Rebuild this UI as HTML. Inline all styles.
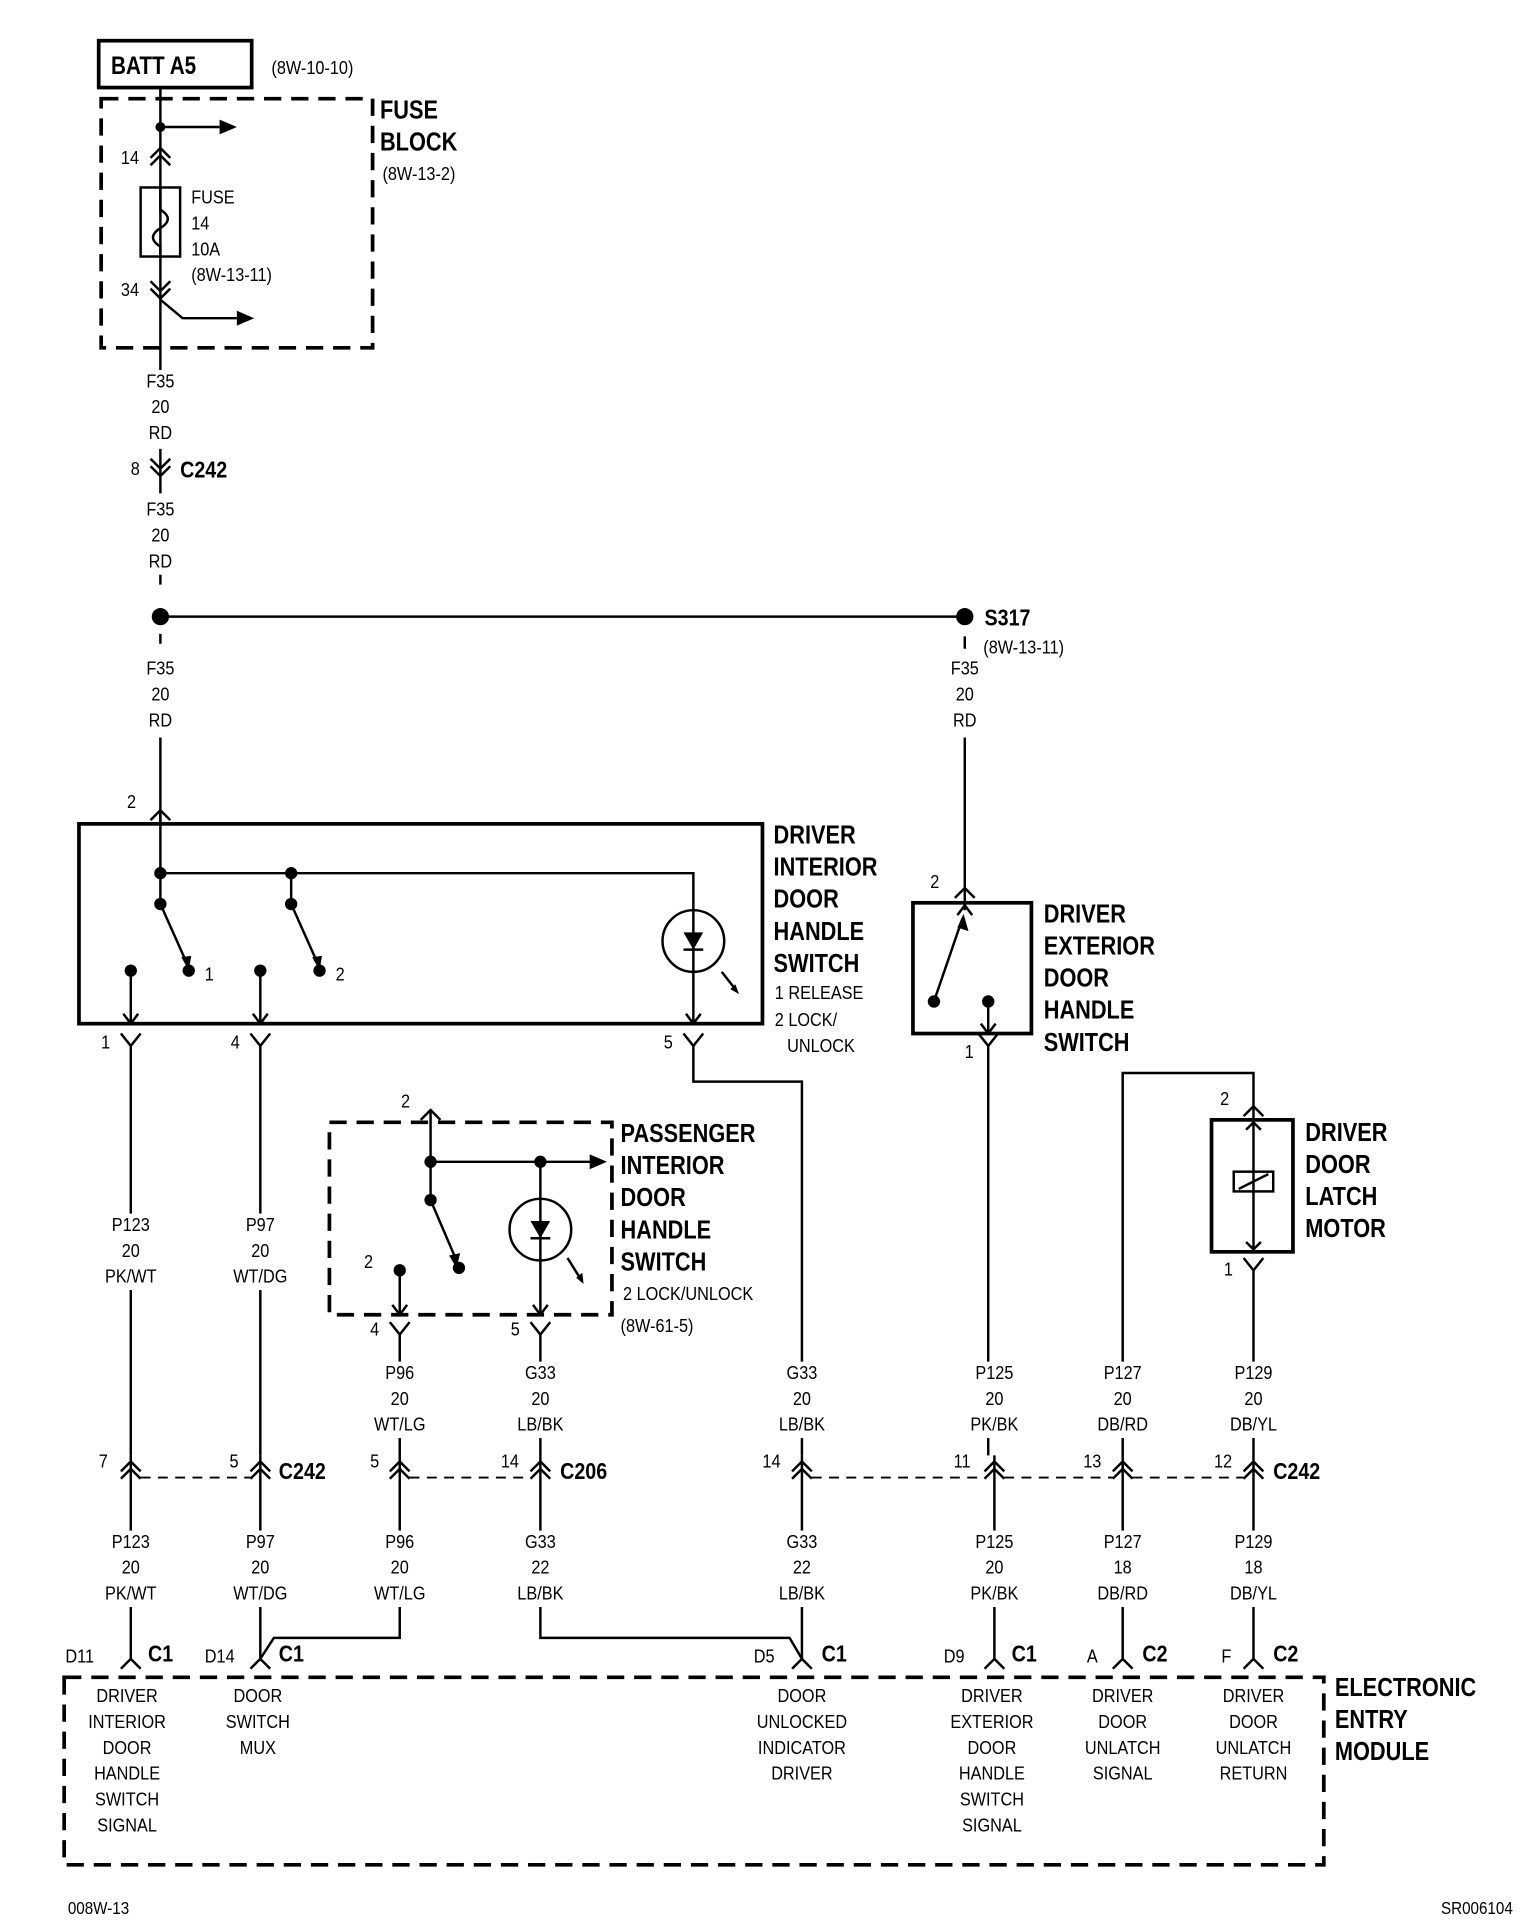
<!DOCTYPE html>
<html><head><meta charset="utf-8"><style>
html,body{margin:0;padding:0;background:#fff}
svg{display:block}
text{font-family:"Liberation Sans Narrow","Liberation Sans",sans-serif;fill:#000}
.b{font-weight:bold;font-size:21px}
.s{font-size:15px}
.c{text-anchor:middle;font-size:15px}
</style></head><body>
<svg id="d" width="1536" height="1924" viewBox="0 0 1245 1560" preserveAspectRatio="none" xmlns="http://www.w3.org/2000/svg">
<g stroke="#000" stroke-width="2" fill="none">
<rect x="80" y="33" width="124" height="38" stroke-width="3"/>
<rect x="82" y="80" width="220" height="202" stroke-width="3" stroke-dasharray="14 8"/>
<path d="M130 71V300M130 364V400M130 466V474M130 514V522M130 598V668"/>
<path d="M130 103H178"/>
<path d="M122 128L130 120L138 128M122 134L130 126L138 134"/>
<rect x="114" y="152" width="32" height="56"/>
<path d="M130 152V170C138 175 138 180 130 185C122 190 122 195 130 200V208"/>
<path d="M122 228L130 236L138 228M122 234L130 242L138 234"/>
<path d="M130 243L148 258H192"/>
<path d="M122 372L130 380L138 372M122 378L130 386L138 378"/>
<path d="M130 500H782"/>
<path d="M782 516V526M782 598V720"/>
<rect x="64" y="668" width="554" height="162" stroke-width="3"/>
<path d="M122 665L130 657L138 665"/>
<path d="M130 657V733M130 708H562V830M236 708V733"/>
<path d="M130 733L151 780M236 733L257 780"/>
<path d="M106 787V830M211 787V830"/>
<path d="M100 822L106 830L112 822M205 822L211 830L217 822M556 822L562 830L568 822"/>
<circle cx="562" cy="763" r="25"/>
<path d="M585 788L596 802"/>
<path d="M98 838L106 848L114 838M203 838L211 848L219 838M554 838L562 848L570 838"/>
<path d="M106 848V1180M211 848V1180M562 848V877H650V1180"/>
<rect x="740" y="732" width="96" height="106" stroke-width="3"/>
<path d="M774 728L782 720L790 728M776 742L782 734L788 742"/>
<path d="M782 720V738M757 812L780 745M801 812V838M795 830L801 838L807 830"/>
<path d="M793 838L801 848L809 838M801 848V1180"/>
<rect x="267" y="910" width="229" height="156" stroke-width="3" stroke-dasharray="14 8"/>
<path d="M341 908L349 900L357 908"/>
<path d="M349 900V973M349 942H480M438 942V1066M349 973L370 1022"/>
<path d="M324 1030V1066M318 1058L324 1066L330 1058M432 1058L438 1066L444 1058"/>
<circle cx="438" cy="997" r="25"/>
<path d="M460 1020L470 1036"/>
<path d="M316 1072L324 1082L332 1072M430 1072L438 1082L446 1072"/>
<path d="M324 1082V1328H222L211 1345M438 1082V1328H640L650 1345"/>
<rect x="982" y="908" width="66" height="107" stroke-width="3"/>
<path d="M1008 905L1016 897L1024 905M1016 897V1015M1010 916L1016 910L1022 916M1010 1007L1016 1013L1022 1007"/>
<rect x="1000" y="950" width="32" height="16"/>
<path d="M1004 964L1028 952"/>
<path d="M1008 1020L1016 1030L1024 1020M1016 1030V1345"/>
<path d="M910 1345V870H1016V897"/>
<path d="M98 1193L106 1185L114 1193M98 1199L106 1191L114 1199M203 1193L211 1185L219 1193M203 1199L211 1191L219 1199M316 1193L324 1185L332 1193M316 1199L324 1191L332 1199M430 1193L438 1185L446 1193M430 1199L438 1191L446 1199M642 1193L650 1185L658 1193M642 1199L650 1191L658 1199M798 1193L806 1185L814 1193M798 1199L806 1191L814 1199M902 1193L910 1185L918 1193M902 1199L910 1191L918 1199M1008 1193L1016 1185L1024 1193M1008 1199L1016 1191L1024 1199"/>
<path d="M114 1198H203M332 1198H430M658 1198H798M814 1198H902M918 1198H1008" stroke-width="1.5" stroke-dasharray="8 6"/>
<path d="M106 1180V1345M211 1180V1345M806 1180V1345M650 1180V1345"/>
<path d="M98 1353L106 1345L114 1353M203 1353L211 1345L219 1353M642 1353L650 1345L658 1353M798 1353L806 1345L814 1353M902 1353L910 1345L918 1353M1008 1353L1016 1345L1024 1353"/>
<rect x="52" y="1360" width="1021" height="152" stroke-width="3" stroke-dasharray="14 8"/>
</g>
<g fill="#fff">
<rect x="100" y="984" width="12" height="62"/><rect x="205" y="984" width="12" height="62"/>
<rect x="318" y="1104" width="12" height="62"/><rect x="432" y="1104" width="12" height="62"/><rect x="644" y="1104" width="12" height="62"/><rect x="795" y="1104" width="12" height="62"/><rect x="904" y="1104" width="12" height="62"/><rect x="1010" y="1104" width="12" height="62"/>
<rect x="100" y="1241" width="12" height="62"/><rect x="205" y="1241" width="12" height="62"/><rect x="318" y="1241" width="12" height="62"/><rect x="432" y="1241" width="12" height="62"/><rect x="644" y="1241" width="12" height="62"/><rect x="800" y="1241" width="12" height="62"/><rect x="904" y="1241" width="12" height="62"/><rect x="1010" y="1241" width="12" height="62"/>
</g>
<g fill="#000">
<circle cx="130" cy="103" r="4"/><circle cx="130" cy="500" r="7"/><circle cx="782" cy="500" r="7"/>
<circle cx="130" cy="708" r="5"/><circle cx="236" cy="708" r="5"/><circle cx="130" cy="733" r="5"/><circle cx="236" cy="733" r="5"/>
<circle cx="153" cy="787" r="5"/><circle cx="259" cy="787" r="5"/><circle cx="106" cy="787" r="5"/><circle cx="211" cy="787" r="5"/>
<circle cx="757" cy="812" r="5"/><circle cx="801" cy="812" r="5"/>
<circle cx="349" cy="942" r="5"/><circle cx="438" cy="942" r="5"/><circle cx="349" cy="973" r="5"/><circle cx="372" cy="1028" r="5"/><circle cx="324" cy="1030" r="5"/>
<path d="M178 97L192 103L178 109Z"/><path d="M192 252L206 258L192 264Z"/><path d="M478 936L492 942L478 948Z"/>
<path d="M554 756H570L562 770Z"/><path d="M430 990H446L438 1004Z"/>
<path d="M554 770H570" stroke="#000" stroke-width="2"/><path d="M430 1004H446" stroke="#000" stroke-width="2"/>
<path d="M592 802L599 806L596 798Z"/><path d="M467 1036L473 1041L472 1032Z"/>
<path d="M147 776L153 787L155 775Z"/><path d="M253 776L259 787L261 775Z"/>
<path d="M776 752L781 741L785 755Z"/><path d="M364 1018L370 1028L373 1016Z"/>
</g>
<text x="90" y="60" class="b" style="font-size:20px">BATT A5</text>
<text x="220" y="60" class="s">(8W-10-10)</text>
<text x="308" y="96" class="b">FUSE</text><text x="308" y="122" class="b">BLOCK</text>
<text x="310" y="146" class="s">(8W-13-2)</text>
<text x="98" y="133" class="s">14</text><text x="98" y="240" class="s">34</text>
<text x="155" y="165" class="s">FUSE</text><text x="155" y="186" class="s">14</text><text x="155" y="207" class="s">10A</text><text x="155" y="228" class="s">(8W-13-11)</text>
<text x="130" y="314" class="c">F35</text><text x="130" y="335" class="c">20</text><text x="130" y="356" class="c">RD</text>
<text x="130" y="418" class="c">F35</text><text x="130" y="439" class="c">20</text><text x="130" y="460" class="c">RD</text>
<text x="130" y="547" class="c">F35</text><text x="130" y="568" class="c">20</text><text x="130" y="589" class="c">RD</text>
<text x="782" y="547" class="c">F35</text><text x="782" y="568" class="c">20</text><text x="782" y="589" class="c">RD</text>
<text x="106" y="385" class="s">8</text><text x="146" y="387" class="b" style="font-size:19px">C242</text>
<text x="798" y="507" class="b" style="font-size:19px">S317</text><text x="797" y="530" class="s">(8W-13-11)</text>
<text x="103" y="655" class="s">2</text>
<text x="166" y="795" class="s">1</text><text x="272" y="795" class="s">2</text>
<text x="627" y="684" class="b">DRIVER</text><text x="627" y="710" class="b">INTERIOR</text><text x="627" y="736" class="b">DOOR</text><text x="627" y="762" class="b">HANDLE</text><text x="627" y="788" class="b">SWITCH</text>
<text x="628" y="810" class="s">1 RELEASE</text><text x="628" y="832" class="s">2 LOCK/</text><text x="638" y="853" class="s">UNLOCK</text>
<text x="82" y="850" class="s">1</text><text x="187" y="850" class="s">4</text><text x="538" y="850" class="s">5</text>
<text x="754" y="720" class="s">2</text><text x="782" y="858" class="s">1</text>
<text x="846" y="748" class="b">DRIVER</text><text x="846" y="774" class="b">EXTERIOR</text><text x="846" y="800" class="b">DOOR</text><text x="846" y="826" class="b">HANDLE</text><text x="846" y="852" class="b">SWITCH</text>
<text x="325" y="898" class="s">2</text><text x="295" y="1028" class="s">2</text>
<text x="503" y="926" class="b">PASSENGER</text><text x="503" y="952" class="b">INTERIOR</text><text x="503" y="978" class="b">DOOR</text><text x="503" y="1004" class="b">HANDLE</text><text x="503" y="1030" class="b">SWITCH</text>
<text x="505" y="1054" class="s">2 LOCK/UNLOCK</text><text x="503" y="1080" class="s">(8W-61-5)</text>
<text x="300" y="1083" class="s">4</text><text x="414" y="1083" class="s">5</text>
<text x="989" y="896" class="s">2</text><text x="992" y="1034" class="s">1</text>
<text x="1058" y="925" class="b">DRIVER</text><text x="1058" y="951" class="b">DOOR</text><text x="1058" y="977" class="b">LATCH</text><text x="1058" y="1003" class="b">MOTOR</text>
<text x="106" y="998" class="c">P123</text><text x="106" y="1019" class="c">20</text><text x="106" y="1040" class="c">PK/WT</text>
<text x="211" y="998" class="c">P97</text><text x="211" y="1019" class="c">20</text><text x="211" y="1040" class="c">WT/DG</text>
<text x="324" y="1118" class="c">P96</text><text x="324" y="1139" class="c">20</text><text x="324" y="1160" class="c">WT/LG</text>
<text x="438" y="1118" class="c">G33</text><text x="438" y="1139" class="c">20</text><text x="438" y="1160" class="c">LB/BK</text>
<text x="650" y="1118" class="c">G33</text><text x="650" y="1139" class="c">20</text><text x="650" y="1160" class="c">LB/BK</text>
<text x="806" y="1118" class="c">P125</text><text x="806" y="1139" class="c">20</text><text x="806" y="1160" class="c">PK/BK</text>
<text x="910" y="1118" class="c">P127</text><text x="910" y="1139" class="c">20</text><text x="910" y="1160" class="c">DB/RD</text>
<text x="1016" y="1118" class="c">P129</text><text x="1016" y="1139" class="c">20</text><text x="1016" y="1160" class="c">DB/YL</text>
<text x="80" y="1190" class="s">7</text><text x="186" y="1190" class="s">5</text><text x="300" y="1190" class="s">5</text><text x="406" y="1190" class="s">14</text>
<text x="618" y="1190" class="s">14</text><text x="773" y="1190" class="s">11</text><text x="878" y="1190" class="s">13</text><text x="984" y="1190" class="s">12</text>
<text x="226" y="1199" class="b" style="font-size:19px">C242</text><text x="454" y="1199" class="b" style="font-size:19px">C206</text><text x="1032" y="1199" class="b" style="font-size:19px">C242</text>
<text x="106" y="1255" class="c">P123</text><text x="106" y="1276" class="c">20</text><text x="106" y="1297" class="c">PK/WT</text>
<text x="211" y="1255" class="c">P97</text><text x="211" y="1276" class="c">20</text><text x="211" y="1297" class="c">WT/DG</text>
<text x="324" y="1255" class="c">P96</text><text x="324" y="1276" class="c">20</text><text x="324" y="1297" class="c">WT/LG</text>
<text x="438" y="1255" class="c">G33</text><text x="438" y="1276" class="c">22</text><text x="438" y="1297" class="c">LB/BK</text>
<text x="650" y="1255" class="c">G33</text><text x="650" y="1276" class="c">22</text><text x="650" y="1297" class="c">LB/BK</text>
<text x="806" y="1255" class="c">P125</text><text x="806" y="1276" class="c">20</text><text x="806" y="1297" class="c">PK/BK</text>
<text x="910" y="1255" class="c">P127</text><text x="910" y="1276" class="c">18</text><text x="910" y="1297" class="c">DB/RD</text>
<text x="1016" y="1255" class="c">P129</text><text x="1016" y="1276" class="c">18</text><text x="1016" y="1297" class="c">DB/YL</text>
<text x="53" y="1348" class="s">D11</text><text x="120" y="1347" class="b" style="font-size:19px">C1</text>
<text x="166" y="1348" class="s">D14</text><text x="226" y="1347" class="b" style="font-size:19px">C1</text>
<text x="611" y="1348" class="s">D5</text><text x="666" y="1347" class="b" style="font-size:19px">C1</text>
<text x="765" y="1348" class="s">D9</text><text x="820" y="1347" class="b" style="font-size:19px">C1</text>
<text x="881" y="1348" class="s">A</text><text x="926" y="1347" class="b" style="font-size:19px">C2</text>
<text x="990" y="1348" class="s">F</text><text x="1032" y="1347" class="b" style="font-size:19px">C2</text>
<text x="1082" y="1375" class="b">ELECTRONIC</text><text x="1082" y="1401" class="b">ENTRY</text><text x="1082" y="1427" class="b">MODULE</text>
<text x="103" y="1380" class="c">DRIVER</text><text x="103" y="1401" class="c">INTERIOR</text><text x="103" y="1422" class="c">DOOR</text><text x="103" y="1443" class="c">HANDLE</text><text x="103" y="1464" class="c">SWITCH</text><text x="103" y="1485" class="c">SIGNAL</text>
<text x="209" y="1380" class="c">DOOR</text><text x="209" y="1401" class="c">SWITCH</text><text x="209" y="1422" class="c">MUX</text>
<text x="650" y="1380" class="c">DOOR</text><text x="650" y="1401" class="c">UNLOCKED</text><text x="650" y="1422" class="c">INDICATOR</text><text x="650" y="1443" class="c">DRIVER</text>
<text x="804" y="1380" class="c">DRIVER</text><text x="804" y="1401" class="c">EXTERIOR</text><text x="804" y="1422" class="c">DOOR</text><text x="804" y="1443" class="c">HANDLE</text><text x="804" y="1464" class="c">SWITCH</text><text x="804" y="1485" class="c">SIGNAL</text>
<text x="910" y="1380" class="c">DRIVER</text><text x="910" y="1401" class="c">DOOR</text><text x="910" y="1422" class="c">UNLATCH</text><text x="910" y="1443" class="c">SIGNAL</text>
<text x="1016" y="1380" class="c">DRIVER</text><text x="1016" y="1401" class="c">DOOR</text><text x="1016" y="1422" class="c">UNLATCH</text><text x="1016" y="1443" class="c">RETURN</text>
<text x="55" y="1552" class="s" style="font-size:14px">008W-13</text><text x="1168" y="1552" class="s" style="font-size:14px">SR006104</text>
</svg>
<script>
(function(){
  var ts=document.querySelectorAll('#d text');
  for(var i=0;i<ts.length;i++){
    var t=ts[i];var x=parseFloat(t.getAttribute('x'));
    var k=t.classList.contains('b')?0.84:0.88;
    t.setAttribute('transform','translate('+x+',0) scale('+k+',1) translate('+(-x)+',0)');
  }
})();
</script>
</body></html>
